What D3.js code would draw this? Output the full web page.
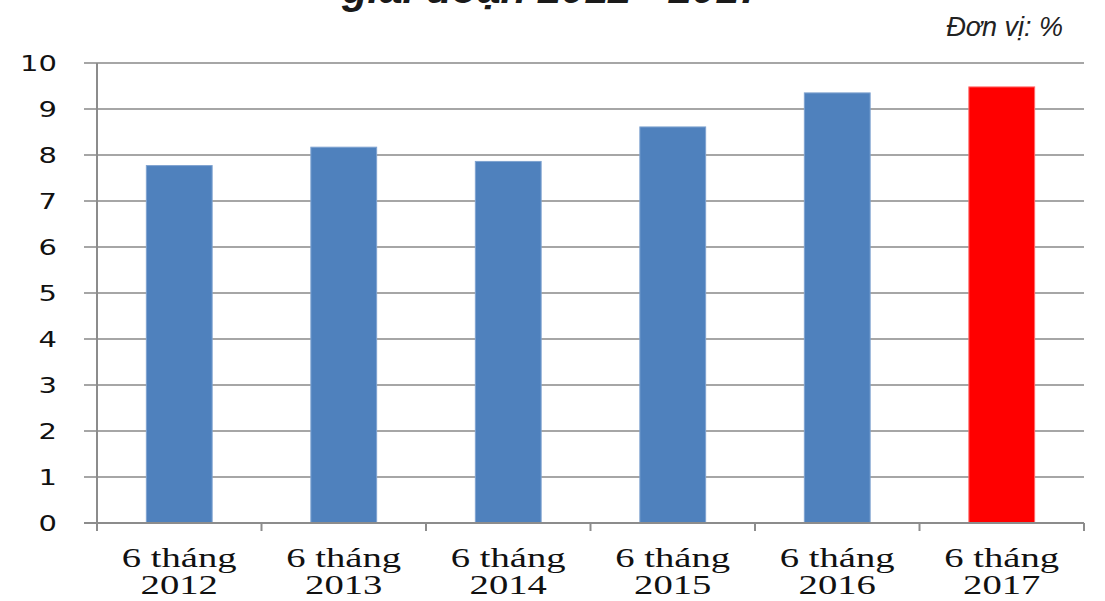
<!DOCTYPE html>
<html>
<head>
<meta charset="utf-8">
<script src="https://cdn.jsdelivr.net/npm/d3@7"></script>
<style>
  body { margin: 0; background: #fff; }
  svg { display: block; }
</style>
</head>
<body>
<div id="chart"></div>
<script>
// data
var years = ["2012", "2013", "2014", "2015", "2016", "2017"];
var periodLabel = "6 tháng";
var values = [7.77, 8.17, 7.86, 8.61, 9.35, 9.48];
var yTicks = [0, 1, 2, 3, 4, 5, 6, 7, 8, 9, 10];
var highlightYear = "2017";
var titleText = "giai đoạn 2012 - 2017";
var unitText = "Đơn vị: %";

var svgWidth = 1105;
var svgHeight = 601;

var margin = { top: 63, right: 21, bottom: 78, left: 97 };
var chartWidth = svgWidth - margin.left - margin.right;
var chartHeight = svgHeight - margin.top - margin.bottom;

var svg = d3.select("#chart")
  .append("svg")
  .attr("width", svgWidth)
  .attr("height", svgHeight);

// title is cut off at the top edge, only the lower part shows
svg.append("text")
  .attr("x", 552)
  .attr("y", 3)
  .attr("text-anchor", "middle")
  .style("font-family", "'Liberation Sans', Arial, sans-serif")
  .style("font-weight", "bold")
  .style("font-style", "italic")
  .style("font-size", "42px")
  .style("fill", "#1a1a1a")
  .text(titleText);

svg.append("text")
  .attr("x", 1063)
  .attr("y", 36)
  .attr("text-anchor", "end")
  .style("font-family", "'Liberation Sans', Arial, sans-serif")
  .style("font-style", "italic")
  .style("font-size", "27px")
  .style("fill", "#222")
  .text(unitText);

var chartGroup = svg.append("g")
  .attr("transform", `translate(${margin.left}, ${margin.top})`);

var xScale = d3.scaleBand()
  .domain(years)
  .range([0, chartWidth])
  .paddingInner(0.6)
  .paddingOuter(0.3);

var yScale = d3.scaleLinear()
  .domain([0, 10])
  .range([chartHeight, 0]);

// gridlines (extend left past the axis like tick marks)
chartGroup.selectAll(".grid")
  .data(yTicks)
  .enter()
  .append("line")
  .attr("class", "grid")
  .attr("x1", -13)
  .attr("x2", chartWidth)
  .attr("y1", d => yScale(d))
  .attr("y2", d => yScale(d))
  .style("stroke", "#a6a6a6")
  .style("stroke-width", 2);

// bars
chartGroup.selectAll("rect")
  .data(values)
  .enter()
  .append("rect")
  .attr("x", (d, i) => xScale(years[i]))
  .attr("y", d => yScale(d))
  .attr("width", xScale.bandwidth())
  .attr("height", d => chartHeight - yScale(d))
  .style("fill", (d, i) => years[i] === highlightYear ? "#ff0000" : "#4f81bd")
  .style("stroke", (d, i) => years[i] === highlightYear ? "#ff6a6a" : "#7fa3d0")
  .style("stroke-width", 1);

// y axis line
chartGroup.append("line")
  .attr("x1", 0).attr("x2", 0)
  .attr("y1", 0).attr("y2", chartHeight + 8)
  .style("stroke", "#8c8c8c")
  .style("stroke-width", 2);

// x axis line and category boundary ticks
chartGroup.append("line")
  .attr("x1", -13).attr("x2", chartWidth)
  .attr("y1", chartHeight).attr("y2", chartHeight)
  .style("stroke", "#8c8c8c")
  .style("stroke-width", 2);

var step = xScale.step();
chartGroup.selectAll(".xtick")
  .data(d3.range(years.length + 1))
  .enter()
  .append("line")
  .attr("class", "xtick")
  .attr("x1", i => i * step)
  .attr("x2", i => i * step)
  .attr("y1", chartHeight)
  .attr("y2", chartHeight + 8)
  .style("stroke", "#8c8c8c")
  .style("stroke-width", 2);

// y tick labels (stretched horizontally like the picture)
chartGroup.selectAll(".ylabel")
  .data(yTicks)
  .enter()
  .append("text")
  .attr("class", "ylabel")
  .attr("transform", d => `translate(-40, ${yScale(d)}) scale(1.38, 1)`)
  .attr("dy", "0.36em")
  .attr("text-anchor", "end")
  .style("font-family", "'DejaVu Sans', Verdana, sans-serif")
  .style("font-size", "21px")
  .style("fill", "#111")
  .text(d => d);

// x category labels, two lines
var xLabels = chartGroup.selectAll(".xlabel")
  .data(years)
  .enter()
  .append("g")
  .attr("class", "xlabel")
  .attr("transform", d => `translate(${xScale(d) + xScale.bandwidth() / 2}, ${chartHeight + 44}) scale(1.38, 1)`);

xLabels.append("text")
  .attr("text-anchor", "middle")
  .style("font-family", "'Liberation Serif', 'Times New Roman', serif")
  .style("font-size", "28px")
  .style("fill", "#111")
  .text(periodLabel);

xLabels.append("text")
  .attr("y", 27)
  .attr("text-anchor", "middle")
  .style("font-family", "'Liberation Serif', 'Times New Roman', serif")
  .style("font-size", "28px")
  .style("fill", "#111")
  .text(d => d);
</script>
</body>
</html>
